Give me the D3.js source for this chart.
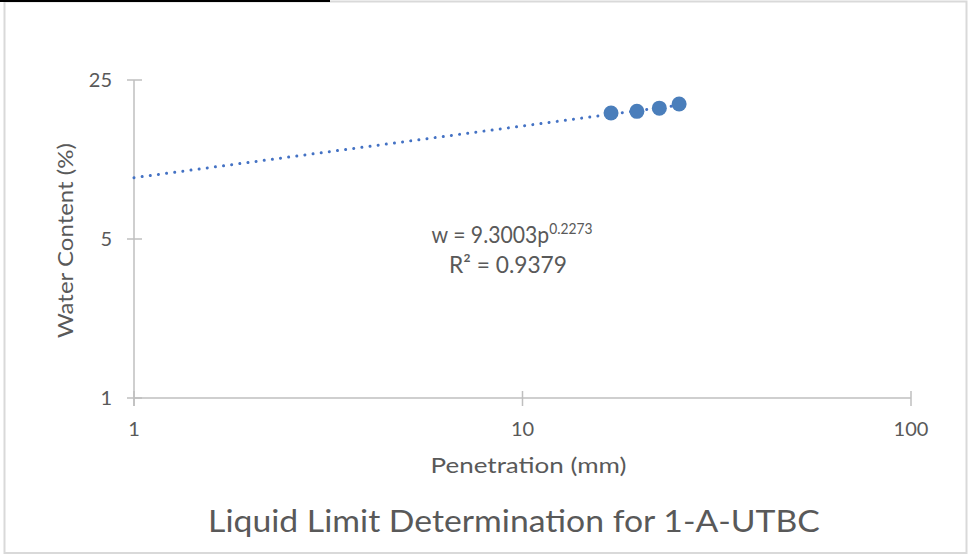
<!DOCTYPE html>
<html>
<head>
<meta charset="utf-8">
<script src="https://cdn.jsdelivr.net/npm/d3@7"></script>
<style>
  html, body { margin: 0; padding: 0; background: #fff; }
  svg { display: block; }
  text { font-family: Lato, "Open Sans", sans-serif; fill: #595959; }
</style>
</head>
<body>
<script>
// ---- data ----
const penetration = [16.9, 19.7, 22.5, 25.3];      // mm
const waterContent = [17.9, 18.2, 18.8, 19.6];     // %
const xTicks = [1, 10, 100];
const yTicks = [1, 5, 25];
const trendCoef = 9.3003;
const trendExp = 0.2273;
const rSquared = 0.9379;
const trendRange = [1, 25.3];
const chartTitle = "Liquid Limit Determination for 1-A-UTBC";
const xTitle = "Penetration (mm)";
const yTitle = "Water Content (%)";

const W = 968, H = 556;
const svg = d3.select("body").append("svg").attr("width", W).attr("height", H);

// outer frame
svg.append("rect").attr("x", 4.5).attr("y", 1.5).attr("width", 962).attr("height", 551.5)
  .attr("fill", "#fff").attr("stroke", "#d9d9d9").attr("stroke-width", 2);
svg.append("rect").attr("x", 0).attr("y", 0).attr("width", 330).attr("height", 2).attr("fill", "#000");

const x = d3.scaleLog().domain([1, 100]).range([134, 911]);
const y = d3.scaleLog().domain([1, 25]).range([398, 80]);

const axisColor = "#bfbfbf";

// x axis line + cross ticks
svg.append("line").attr("x1", x(1)).attr("x2", x(100)).attr("y1", y(1)).attr("y2", y(1))
  .attr("stroke", axisColor).attr("stroke-width", 1.5);
svg.selectAll(".xt").data(xTicks).enter().append("line")
  .attr("x1", d => x(d)).attr("x2", d => x(d))
  .attr("y1", y(1) - 7).attr("y2", y(1) + 8)
  .attr("stroke", axisColor).attr("stroke-width", 1.5);
svg.selectAll(".xl").data(xTicks).enter().append("text")
  .attr("x", d => x(d)).attr("y", 436).attr("text-anchor", "middle")
  .attr("font-size", 20).text(d => d);

// y axis line + cross ticks
svg.append("line").attr("x1", x(1)).attr("x2", x(1)).attr("y1", y(25)).attr("y2", y(1) + 8)
  .attr("stroke", axisColor).attr("stroke-width", 1.5);
svg.selectAll(".yt").data(yTicks).enter().append("line")
  .attr("x1", x(1) - 7).attr("x2", x(1) + 8)
  .attr("y1", d => y(d)).attr("y2", d => y(d))
  .attr("stroke", axisColor).attr("stroke-width", 1.5);
svg.selectAll(".yl").data(yTicks).enter().append("text")
  .attr("x", 112).attr("y", d => y(d) + 7).attr("text-anchor", "end")
  .attr("font-size", 20).text(d => d);

// trendline (power fit drawn on log-log scales)
const trendPts = trendRange.map(p => [p, trendCoef * Math.pow(p, trendExp)]);
svg.append("path")
  .attr("d", d3.line().x(d => x(d[0])).y(d => y(d[1]))(trendPts))
  .attr("fill", "none").attr("stroke", "#4472c4").attr("stroke-width", 3)
  .attr("stroke-linecap", "round").attr("stroke-dasharray", "0.01 8.2");

// markers
svg.selectAll(".pt").data(penetration).enter().append("circle")
  .attr("cx", d => x(d)).attr("cy", (d, i) => y(waterContent[i]))
  .attr("r", 7.5).attr("fill", "#4a7ebb");

// helper: text with a given cap size, stretched horizontally to a target width
function fitText(cx, cy, size, target, rotate, build) {
  const g = svg.append("g").attr("transform", `translate(${cx},${cy})` + (rotate ? " rotate(-90)" : ""));
  const t = g.append("text").attr("text-anchor", "middle").attr("font-size", size);
  build(t);
  const w = t.node().getBBox().width;
  t.attr("transform", `scale(${target / w},1)`);
  return t;
}

// equation
fitText(512, 243, 23, 161, false, t => {
  t.append("tspan").text("w = " + trendCoef.toFixed(4) + "p");
  t.append("tspan").attr("dy", -9).attr("font-size", 15).text(trendExp.toFixed(4));
});
fitText(508, 273, 23, 118, false, t => t.text("R² = " + rSquared.toFixed(4)));

// axis titles
fitText(528.5, 473, 20.5, 196, false, t => t.text(xTitle));
fitText(73, 240.5, 20.5, 195, true, t => t.text(yTitle));

// chart title
fitText(514, 532, 30.5, 612, false, t => t.text(chartTitle));
</script>
</body>
</html>
